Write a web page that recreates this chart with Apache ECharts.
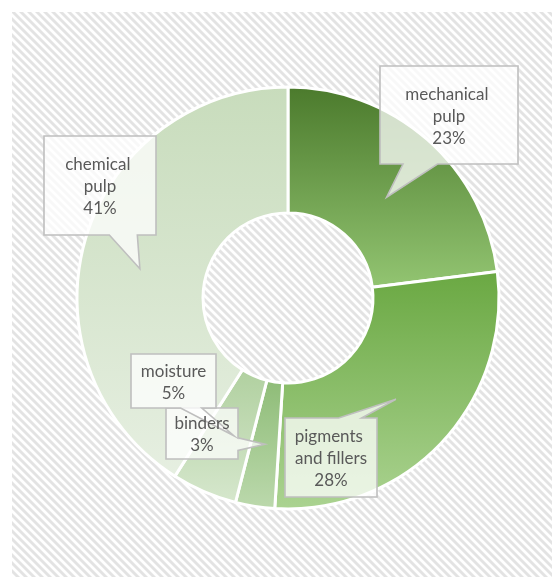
<!DOCTYPE html>
<html><head><meta charset="utf-8">
<script src="https://cdn.jsdelivr.net/npm/echarts@6/dist/echarts.min.js"></script>
<style>html,body{margin:0;padding:0;background:#fff}#c{position:absolute;left:12px;top:12px;width:540px;height:565px}</style>
</head><body><div id="c"></div>
<script>
// ---- data ----
const categories = ['mechanical pulp', 'pigments and fillers', 'binders', 'moisture', 'chemical pulp'];
const shares = [23, 28, 3, 5, 41];

// ---- styles / layout (not data) ----
const sliceGradients = [
  ['#4b7a2c', '#93c572'],
  ['#6aa842', '#abd391'],
  ['#8ebc77', '#bcd9ad'],
  ['#b0d09f', '#d6e7cd'],
  ['#c8dcbc', '#e6efe1']
];
const labelWrap = [96, 86, 76, 76, 86];
// callout box: [dx, dy] of box centre from pie centre, [w, h]
const calloutBoxes = [
  [161, -183, 138, 98],
  [43, 159.5, 92, 79],
  [-86, 135.5, 72, 51],
  [-114.5, 83, 85, 54],
  [-188, -112.5, 112, 99]
];
// small angular / radial nudges of each callout tip (degrees, px)
const tipNudge = [[3, -7], [0, 0], [0, 0], [-2, 0], [-5, 3]];
const CX = 276, CY = 286, R0 = 85, R1 = 211;

// hatch pattern
const pat = document.createElement('canvas');
pat.width = 8; pat.height = 8;
const pctx = pat.getContext('2d');
for (let y = 0; y < 8; y++) for (let x = 0; x < 8; x++) {
  const k = ((x - y) % 8 + 8) % 8;
  pctx.fillStyle = k < 3 ? '#e3e3e3' : (k === 3 || k === 7 ? '#f0f0f0' : '#ffffff');
  pctx.fillRect(x, y, 1, 1);
}

// callout tips at each slice mid angle
const total = shares.reduce((a, b) => a + b, 0);
let acc = 0;
const tips = shares.map((v, i) => {
  const mid = (acc + v / 2) / total * Math.PI * 2 + tipNudge[i][0] * Math.PI / 180; acc += v;
  const r = (R0 + R1) / 2 + tipNudge[i][1];
  return [CX + r * Math.sin(mid), CY - r * Math.cos(mid)];
});

function calloutPoly(i) {
  const b = calloutBoxes[i];
  const w = b[2], h = b[3];
  const l = CX + b[0] - w / 2, t = CY + b[1] - h / 2, r = l + w, btm = t + h;
  const tip = tips[i];
  const dx = tip[0] - (l + w / 2), dy = tip[1] - (t + h / 2);
  const dq = dx * h / w;
  const vertical = Math.abs(dy) > Math.abs(dq);
  const pts = [];
  if (vertical) {
    const a = dx > 0 ? [7 / 12, 10 / 12] : [2 / 12, 5 / 12];
    if (dy < 0) {
      pts.push([l, t], [l + w * a[0], t], tip, [l + w * a[1], t], [r, t], [r, btm], [l, btm]);
    } else {
      pts.push([l, t], [r, t], [r, btm], [l + w * a[1], btm], tip, [l + w * a[0], btm], [l, btm]);
    }
  } else {
    const a = dy > 0 ? [7 / 12, 10 / 12] : [2 / 12, 5 / 12];
    if (dx > 0) {
      pts.push([l, t], [r, t], [r, t + h * a[0]], tip, [r, t + h * a[1]], [r, btm], [l, btm]);
    } else {
      pts.push([l, t], [r, t], [r, btm], [l, btm], [l, t + h * a[1]], tip, [l, t + h * a[0]]);
    }
  }
  return pts;
}

const graphicEls = categories.map((c, i) => ({
  type: 'polygon', silent: true, zlevel: 1, z: 2, z2: 1,
  shape: { points: calloutPoly(i) },
  style: { fill: 'rgba(255,255,255,0.75)', stroke: '#bfbfbf', lineWidth: 1.6 }
}));

const pieData = categories.map((name, i) => ({
  name: name,
  value: shares[i],
  itemStyle: {
    color: {
      type: 'linear', x: 0, y: 0, x2: 0, y2: 1,
      colorStops: [{ offset: 0, color: sliceGradients[i][0] }, { offset: 1, color: sliceGradients[i][1] }]
    }
  }
}));
const labelData = categories.map((name, i) => ({
  name: name,
  value: shares[i],
  label: { width: labelWrap[i] }
}));

const chart = echarts.init(document.getElementById('c'), null, { renderer: 'canvas' });
chart.setOption({
  backgroundColor: { image: pat, repeat: 'repeat' },
  animation: false,
  graphic: { zlevel: 1, z: 2, elements: graphicEls },
  series: [{
    type: 'pie',
    zlevel: 0,
    center: [CX, CY],
    radius: [R0, R1],
    startAngle: 90,
    clockwise: true,
    silent: true,
    emphasis: { disabled: true },
    itemStyle: { borderColor: '#ffffff', borderWidth: 3 },
    label: { show: false },
    labelLine: { show: false },
    data: pieData
  }, {
    type: 'pie',
    zlevel: 2,
    center: [CX, CY],
    radius: [R0, R1],
    startAngle: 90,
    clockwise: true,
    avoidLabelOverlap: false,
    silent: true,
    emphasis: { disabled: true },
    itemStyle: { color: 'rgba(0,0,0,0)', borderWidth: 0 },
    label: {
      show: true,
      formatter: '{b}\n{d}%',
      color: '#595959',
      fontFamily: 'Lato',
      fontSize: 17,
      lineHeight: 22,
      overflow: 'break'
    },
    labelLine: { show: false },
    labelLayout: function (p) {
      const b = calloutBoxes[p.dataIndex];
      return { x: CX + b[0], y: CY + b[1] + 1.5, align: 'center', verticalAlign: 'middle' };
    },
    data: labelData
  }]
});
</script>
</body></html>
